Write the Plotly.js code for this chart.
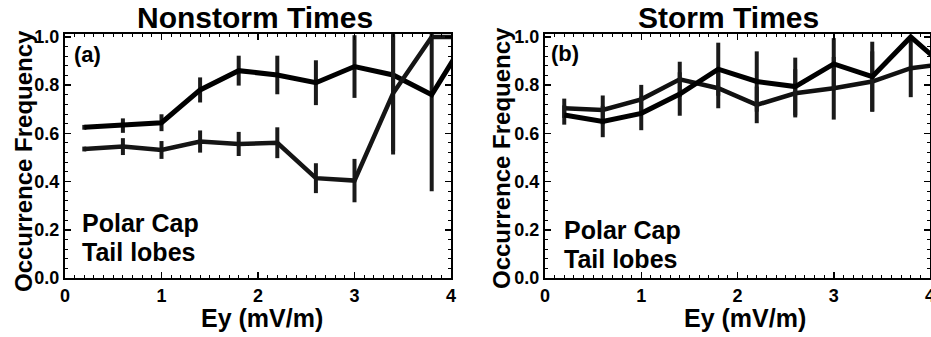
<!DOCTYPE html>
<html>
<head>
<meta charset="utf-8">
<script src="https://cdn.plot.ly/plotly-3.0.1.min.js"></script>
<style>html,body{margin:0;padding:0;background:#fff;}#chart{width:931px;height:337px;}</style>
</head>
<body>
<div id="chart"></div>
<script>
// Ey bin centres (mV/m)
var ey = [0.2, 0.6, 1.0, 1.4, 1.8, 2.2, 2.6, 3.0, 3.4, 3.8, 4.2];

// Panel (a) Nonstorm times
var nonstormA = [0.625, 0.632, 0.644, 0.78, 0.86, 0.842, 0.81, 0.877, 0.842, 0.76, 1.02];
var nonstormAErr = [0.01, 0.03, 0.035, 0.052, 0.062, 0.08, 0.093, 0.13, 0.33, 0.40, 0.0];
var nonstormB = [0.535, 0.545, 0.531, 0.566, 0.556, 0.561, 0.414, 0.404, 0.766, 1.0, 1.0];
var nonstormBErr = [0.01, 0.035, 0.037, 0.046, 0.05, 0.064, 0.062, 0.09, 0.24, 0.0, 0.0];

// Panel (b) Storm times
var stormA = [0.704, 0.697, 0.741, 0.824, 0.787, 0.718, 0.766, 0.787, 0.815, 0.87, 0.89];
var stormAErr = [0.04, 0.06, 0.06, 0.073, 0.083, 0.076, 0.10, 0.13, 0.125, 0.12, 0.0];
var stormB = [0.676, 0.649, 0.683, 0.763, 0.866, 0.815, 0.794, 0.888, 0.835, 1.0, 0.86];
var stormBErr = [0.04, 0.065, 0.07, 0.09, 0.11, 0.125, 0.12, 0.107, 0.145, 0.0, 0.0];

var yTicks = [0, 0.2, 0.4, 0.6, 0.8, 1.0];
var xTicks = [0, 1, 2, 3, 4];
var titles = ['Nonstorm Times', 'Storm Times'];
var panelTags = ['(a)', '(b)'];
var yTitle = 'Occurrence Frequency';
var xTitle = 'Ey (mV/m)';
var labels = ['Polar Cap', 'Tail lobes'];

function tr(y, err, xa, ya, w, col) {
  return {x: ey, y: y, xaxis: xa, yaxis: ya, type: 'scatter', mode: 'lines',
    line: {color: col, width: w}, showlegend: false, hoverinfo: 'skip',
    error_y: {type: 'data', array: err, visible: true, thickness: 4, width: 0, color: '#1a1a1a'}};
}

var data = [
  tr(nonstormA, nonstormAErr, 'x', 'y', 5, '#000'),
  tr(nonstormB, nonstormBErr, 'x', 'y', 4.5, '#151515'),
  tr(stormA, stormAErr, 'x2', 'y2', 4.5, '#111'),
  tr(stormB, stormBErr, 'x2', 'y2', 5, '#000')
];

var F = 'Liberation Sans, Arial, Helvetica, sans-serif';
function xax(dom, anchor) {
  return {domain: dom, anchor: anchor, range: [0, 4], tickvals: xTicks, ticktext: xTicks.map(String),
    showline: true, linecolor: '#000', linewidth: 2, mirror: 'allticks', ticks: 'inside', ticklen: 6,
    tickwidth: 1.5, tickcolor: '#000', showgrid: false, zeroline: false, ticklabeloverflow: 'allow',
    tickfont: {family: F, size: 18, color: '#000', weight: 'bold'},
    minor: {dtick: 0.1, ticks: 'inside', ticklen: 3, tickcolor: '#000', tickwidth: 1, showgrid: false}};
}
function yax(anchor) {
  return {domain: [0.1751, 0.8991], anchor: anchor, range: [0, 1.012], tickvals: yTicks,
    ticktext: yTicks.map(function(v){return v.toFixed(1);}),
    showline: true, linecolor: '#000', linewidth: 2, mirror: 'allticks', ticks: 'inside', ticklen: 6,
    tickwidth: 1.5, tickcolor: '#000', showgrid: false, zeroline: false, ticklabeloverflow: 'allow',
    tickfont: {family: F, size: 18, color: '#000', weight: 'bold'},
    minor: {dtick: 0.04, ticks: 'inside', ticklen: 3, tickcolor: '#000', tickwidth: 1, showgrid: false}};
}

function ann(text, x, y, size, extra) {
  var a = {text: text, x: x, y: y, xref: 'paper', yref: 'paper', showarrow: false,
    font: {family: F, size: size, color: '#000', weight: 'bold'}, xanchor: 'center', yanchor: 'middle'};
  for (var k in extra) a[k] = extra[k];
  return a;
}
function px(v) { return v / 931; }
function py(v) { return 1 - v / 337; }

var annotations = [
  ann(titles[0], px(255), py(18), 30),
  ann(titles[1], px(728), py(18), 30),
  ann(yTitle, px(24), py(161), 24, {textangle: -90}),
  ann(yTitle, px(501), py(158), 24, {textangle: -90}),
  ann(xTitle, px(262), py(318), 25),
  ann(xTitle, px(745), py(318), 25),
  ann(panelTags[0], px(72), py(55), 22, {xanchor: 'left'}),
  ann(panelTags[1], px(549), py(54), 22, {xanchor: 'left'}),
  ann(labels[0], px(80), py(223), 25, {xanchor: 'left'}),
  ann(labels[1], px(80), py(252), 25, {xanchor: 'left'}),
  ann(labels[0], px(562), py(230), 25, {xanchor: 'left'}),
  ann(labels[1], px(562), py(259), 25, {xanchor: 'left'})
];

var layout = {
  width: 931, height: 337, margin: {l: 0, r: 0, t: 0, b: 0},
  paper_bgcolor: '#fff', plot_bgcolor: '#fff', showlegend: false,
  xaxis: xax([65/931, 451/931], 'y'),
  yaxis: yax('x'),
  xaxis2: xax([545/931, 930/931], 'y2'),
  yaxis2: yax('x2'),
  annotations: annotations
};

Plotly.newPlot('chart', data, layout, {staticPlot: true, displayModeBar: false});
</script>
</body>
</html>
